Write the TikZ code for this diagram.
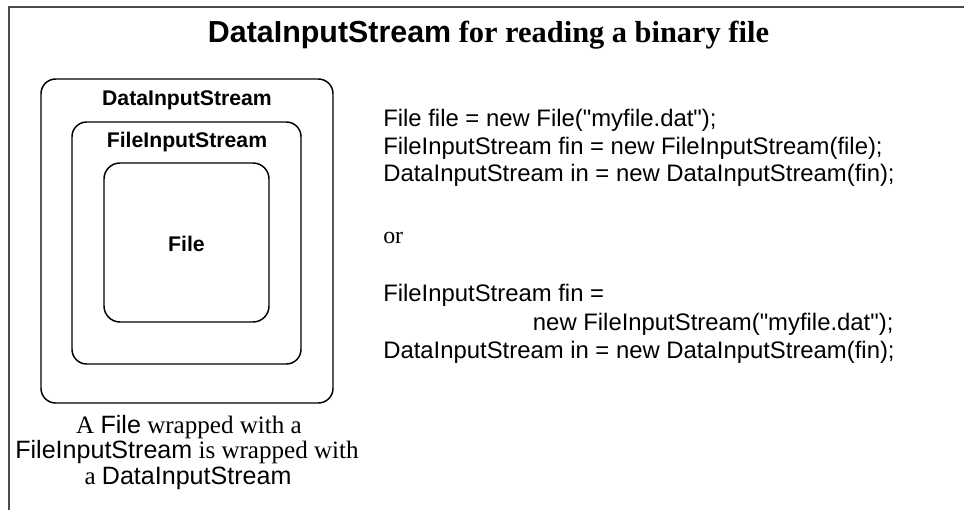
\documentclass[tikz,border=0pt]{standalone}
\usepackage{fontspec}
\setmainfont{Liberation Serif}
\newfontfamily\arial{Liberation Sans}
\begin{document}
\begin{tikzpicture}[x=0.75pt,y=-0.75pt,
  wrapbox/.style={draw=black,line width=1.1pt,rounded corners=11pt},
  frameline/.style={draw=black!70,line width=1.6pt},
  lbl/.style={font=\arial\bfseries\fontsize{15.9}{19}\selectfont,inner sep=0pt,anchor=base},
  code/.style={font=\arial\fontsize{17.9}{21}\selectfont,inner sep=0pt,anchor=base west},
  captext/.style={font=\fontsize{18.8}{22}\selectfont,inner sep=0pt,anchor=base}]
\useasboundingbox (0,0) rectangle (964,510);
% frame
\coordinate (ftr) at (964,7);
\coordinate (ftl) at (9,7);
\coordinate (fbl) at (9,510);
\draw[frameline] (ftr) -- (ftl) -- (fbl);
% title
\node[inner sep=0pt,anchor=base,font=\bfseries\fontsize{22.8}{27}\selectfont] (title) at (488.5,42.3) {{\arial DataInputStream} for reading a binary file};
% boxes
\node[wrapbox,minimum width=292pt*0.75,minimum height=324pt*0.75,inner sep=0pt] (outer) at (187,241) {};
\node[wrapbox,minimum width=229pt*0.75,minimum height=242pt*0.75,inner sep=0pt] (middle) at (186.5,243) {};
\node[wrapbox,minimum width=165pt*0.75,minimum height=159pt*0.75,inner sep=0pt,rounded corners=12pt] (inner) at (186.5,242.5) {};
\node[lbl] (dislbl) at (187,106) {DataInputStream};
\node[lbl] (fislbl) at (187,147) {FileInputStream};
\node[lbl] (filelbl) at (186.5,251) {File};
% caption
\node[captext] (cap1) at (189,433) {A {\arial File} wrapped with a};
\node[captext] (cap2) at (187,458.5) {{\arial FileInputStream} is wrapped with};
\node[captext] (cap3) at (188,484) {a {\arial DataInputStream}};
% code
\node[code] (c1) at (383,126.7) {File file = new File("myfile.dat");};
\node[code] (c2) at (383,154.2) {FileInputStream fin = new FileInputStream(file);};
\node[code] (c3) at (383,181.7) {DataInputStream in = new DataInputStream(fin);};
\node[inner sep=0pt,anchor=base west,font=\fontsize{17.9}{21}\selectfont] (or) at (383,243.3) {or};
\node[code] (c4) at (383,301.7) {FileInputStream fin =};
\node[code] (c5) at (532.7,330) {new FileInputStream("myfile.dat");};
\node[code] (c6) at (383,358.3) {DataInputStream in = new DataInputStream(fin);};
\end{tikzpicture}
\end{document}
